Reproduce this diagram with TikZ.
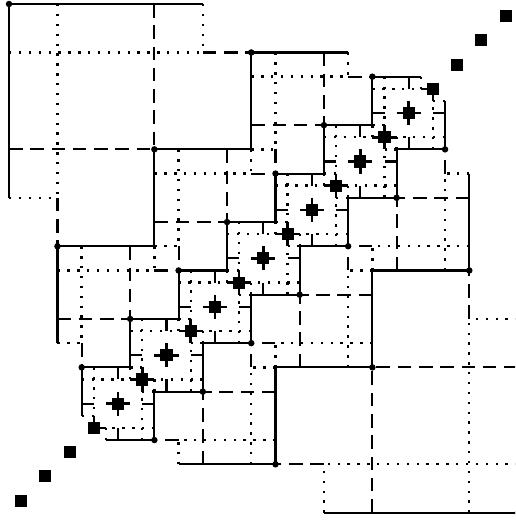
\documentclass[tikz,border=0pt]{standalone}
\usepackage{tikz}
\usetikzlibrary{calc}

\tikzset{
  block line/.style={line width=1.25pt},
  shift line/.style={line width=1.25pt, dash pattern=on 8pt off 4.5pt},
  fine line/.style={line width=1.4pt, dash pattern=on 1.4pt off 4.4pt},
  arm line/.style={line width=1.5pt},
  corner dot/.style={black}
}

% blocks above the anti-diagonal (the lower half is its mirror image)
\newcommand{\upperhalf}{%
  % Level 3 block
  \draw[block line] (0,-8) -- (0,0) -- (8,0);
  \draw[fine line] (2,0) -- (2,-8);
  \draw[fine line] (0,-2) -- (8,-2);
  \draw[fine line] (0,-8) -- (2,-8);
  \draw[fine line] (8,0) -- (8,-2);
  \draw[shift line] (6,0) -- (6,-6);
  \draw[shift line] (0,-6) -- (6,-6);
  \draw[shift line] (2,-8) -- (2,-10);
  \draw[shift line] (8,-2) -- (10,-2);
  \fill[corner dot] (0,0) circle (1.9pt);
  % Level 2 blocks
  \foreach \ii/\jj in {2/10, 6/6, 10/2} {
    \draw[block line] (\ii,-\jj-4) -- (\ii,-\jj) -- (\ii+4,-\jj);
    \draw[fine line] (\ii+1,-\jj) -- (\ii+1,-\jj-4);
    \draw[fine line] (\ii,-\jj-1) -- (\ii+4,-\jj-1);
    \draw[fine line] (\ii,-\jj-4) -- (\ii+1,-\jj-4);
    \draw[fine line] (\ii+4,-\jj) -- (\ii+4,-\jj-1);
    \draw[shift line] (\ii+3,-\jj) -- (\ii+3,-\jj-3);
    \draw[shift line] (\ii,-\jj-3) -- (\ii+3,-\jj-3);
    \draw[shift line] (\ii+1,-\jj-4) -- (\ii+1,-\jj-5);
    \draw[shift line] (\ii+4,-\jj-1) -- (\ii+5,-\jj-1);
    \fill[corner dot] (\ii,-\jj) circle (1.9pt);
  }
  % Level 1 blocks
  \foreach \ii in {3,5,...,15} {
    \pgfmathtruncatemacro\jj{18-\ii}
    \draw[block line] (\ii,-\jj-2) -- (\ii,-\jj) -- (\ii+2,-\jj);
    \draw[fine line] (\ii+0.5,-\jj) -- (\ii+0.5,-\jj-2);
    \draw[fine line] (\ii,-\jj-0.5) -- (\ii+2,-\jj-0.5);
    \draw[fine line] (\ii,-\jj-2) -- (\ii+0.5,-\jj-2);
    \draw[fine line] (\ii+2,-\jj) -- (\ii+2,-\jj-0.5);
    \draw[block line] (\ii+1.5,-\jj) -- (\ii+1.5,-\jj-0.5);
    \draw[block line] (\ii,-\jj-1.5) -- (\ii+0.5,-\jj-1.5);
    \fill[corner dot] (\ii,-\jj) circle (1.9pt);
  }
}

\begin{document}
\begin{tikzpicture}[x=0.5cm, y=0.5cm]
  \useasboundingbox (-0.372,0.165) rectangle (20.89,-21.30);
  \fill[white] (-0.372,0.165) rectangle (20.89,-21.30);
  \clip (-0.372,0.165) rectangle (20.89,-21.30);

  \upperhalf
  % mirrored across the anti-diagonal
  \begin{scope}[shift={(21,-21)}, cm={0,1,1,0,(0,0)}]
    \upperhalf
  \end{scope}

  % Diagonal blocks
  \foreach \k in {0,...,20} {
    \fill (\k+0.25,\k-20.25) rectangle (\k+0.75,\k-20.75);
  }
  \foreach \k in {4,...,16} {
    \draw[arm line] (\k,\k-20.5) -- (\k+1,\k-20.5);
    \draw[arm line] (\k+0.5,\k-20) -- (\k+0.5,\k-21);
  }
  \draw[arm line] (3.5,-17) -- (3.5,-17.5) -- (4,-17.5);
  \draw[arm line] (17,-3.5) -- (17.5,-3.5) -- (17.5,-4);
\end{tikzpicture}
\end{document}
